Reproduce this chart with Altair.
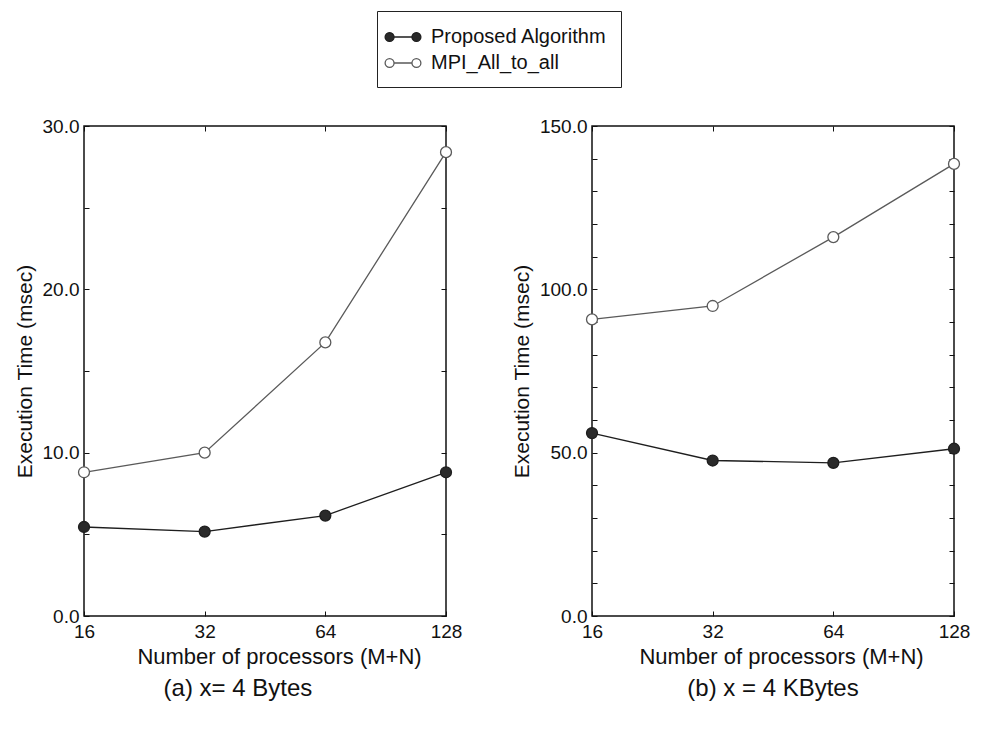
import altair as alt
import pandas as pd

procs = [16, 32, 64, 128]
series_names = ["Proposed Algorithm", "MPI_All_to_all"]
a_proposed = [5.45, 5.17, 6.15, 8.8]
a_mpi = [8.8, 10.0, 16.75, 28.4]
b_proposed = [56.0, 47.6, 46.9, 51.2]
b_mpi = [90.8, 94.9, 116.0, 138.4]

W, H = 362, 490
FONT = "Liberation Sans"


def make_df(prop, mpi):
    rows = []
    for p, v in zip(procs, prop):
        rows.append({"procs": p, "time": v, "series": series_names[0]})
    for p, v in zip(procs, mpi):
        rows.append({"procs": p, "time": v, "series": series_names[1]})
    return pd.DataFrame(rows)


stroke_scale = alt.Scale(domain=series_names, range=["#1e1e1e", "#5a5a5a"])
fill_scale = alt.Scale(domain=series_names, range=["#2a2a2a", "#ffffff"])

legend_path = ("M -1.6 0 A 0.4 0.4 0 1 0 -0.8 0 A 0.4 0.4 0 1 0 -1.6 0 Z "
               "M -0.8 0 L 0.8 0 "
               "M 0.8 0 A 0.4 0.4 0 1 0 1.6 0 A 0.4 0.4 0 1 0 0.8 0 Z")

leg = alt.Legend(
    title=None, orient="none", legendX=293, legendY=-115,
    symbolType=legend_path, symbolSize=500, symbolStrokeWidth=1.3,
    labelFont=FONT, labelFontSize=20, labelColor="#111", labelOffset=16,
    labelLimit=400, strokeColor="#222", padding=14, rowPadding=4,
)


def panel(df, ymax, step, label_every, caption, frame, title_shift):
    xs = alt.Scale(type="log", base=2, domain=[16, 128])
    ys = alt.Scale(domain=[0, ymax])
    yvals = list(range(0, ymax + 1, step))
    lab_expr = f"datum.value % {label_every} == 0 ? format(datum.value, '.1f') : ''"
    base = alt.Chart(df)

    line = base.mark_line(strokeWidth=1.3).encode(
        x=alt.X("procs:Q", scale=xs, axis=alt.Axis(
            orient="bottom", values=procs, format="d", ticks=False, domain=False,
            grid=False, labelFlush=False, labelFont=FONT, labelFontSize=19,
            labelColor="#111", labelPadding=6, title="Number of processors (M+N)",
            titleFont=FONT, titleFontSize=22, titleFontWeight="normal",
            titleColor="#111", titlePadding=5, titleX=W / 2 + title_shift)),
        y=alt.Y("time:Q", scale=ys, axis=alt.Axis(
            orient="left", values=yvals, labelExpr=lab_expr, ticks=False,
            domain=False, grid=False, labelFlush=False, labelFont=FONT,
            labelFontSize=19, labelColor="#111", labelPadding=5,
            title="Execution Time (msec)", titleFont=FONT, titleFontSize=21,
            titleFontWeight="normal", titleColor="#111", titlePadding=7)),
        stroke=alt.Stroke("series:N", scale=stroke_scale, legend=leg),
    )

    pts = base.mark_point(shape="circle", filled=True, opacity=1, size=120,
                          strokeWidth=1.3).encode(
        x=alt.X("procs:Q", scale=xs, axis=alt.Axis(
            orient="top", offset=-H, values=procs, labels=False, domain=False,
            grid=False, title=None, tickSize=5, tickColor="#111")),
        y=alt.Y("time:Q", scale=ys, axis=alt.Axis(
            orient="right", offset=-W, values=yvals, labels=False, domain=False,
            grid=False, title=None, tickSize=5, tickColor="#111")),
        stroke=alt.Stroke("series:N", scale=stroke_scale, legend=leg),
        fill=alt.Fill("series:N", scale=fill_scale, legend=leg),
    )

    ghost = base.mark_point(opacity=0).encode(
        x=alt.X("procs:Q", scale=xs, axis=alt.Axis(
            orient="bottom", offset=-H, values=procs, labels=False, domain=False,
            grid=False, title=None, tickSize=5, tickColor="#111")),
        y=alt.Y("time:Q", scale=ys, axis=alt.Axis(
            orient="left", offset=-W, values=yvals, labels=False, domain=False,
            grid=False, title=None, tickSize=5, tickColor="#111")),
    )

    return alt.layer(line, pts, ghost).resolve_axis(
        x="independent", y="independent"
    ).properties(
        width=W, height=H,
        title=alt.TitleParams(caption, orient="bottom", font=FONT, fontSize=24,
                              fontWeight="normal", color="#111", offset=10,
                              frame=frame),
    )


left = panel(make_df(a_proposed, a_mpi), 30, 5, 10, "(a) x= 4 Bytes", "bounds", 14)
right = panel(make_df(b_proposed, b_mpi), 150, 10, 50, "(b) x = 4 KBytes", "group", 8)

chart = alt.hconcat(left, right, spacing=47).configure_view(
    stroke="#111", strokeWidth=1.5
).properties(
    padding={"left": 5, "top": 2, "right": 0, "bottom": 5},
    background="white",
)

chart.save("out.html", embed_options={"renderer": "svg", "actions": False})
